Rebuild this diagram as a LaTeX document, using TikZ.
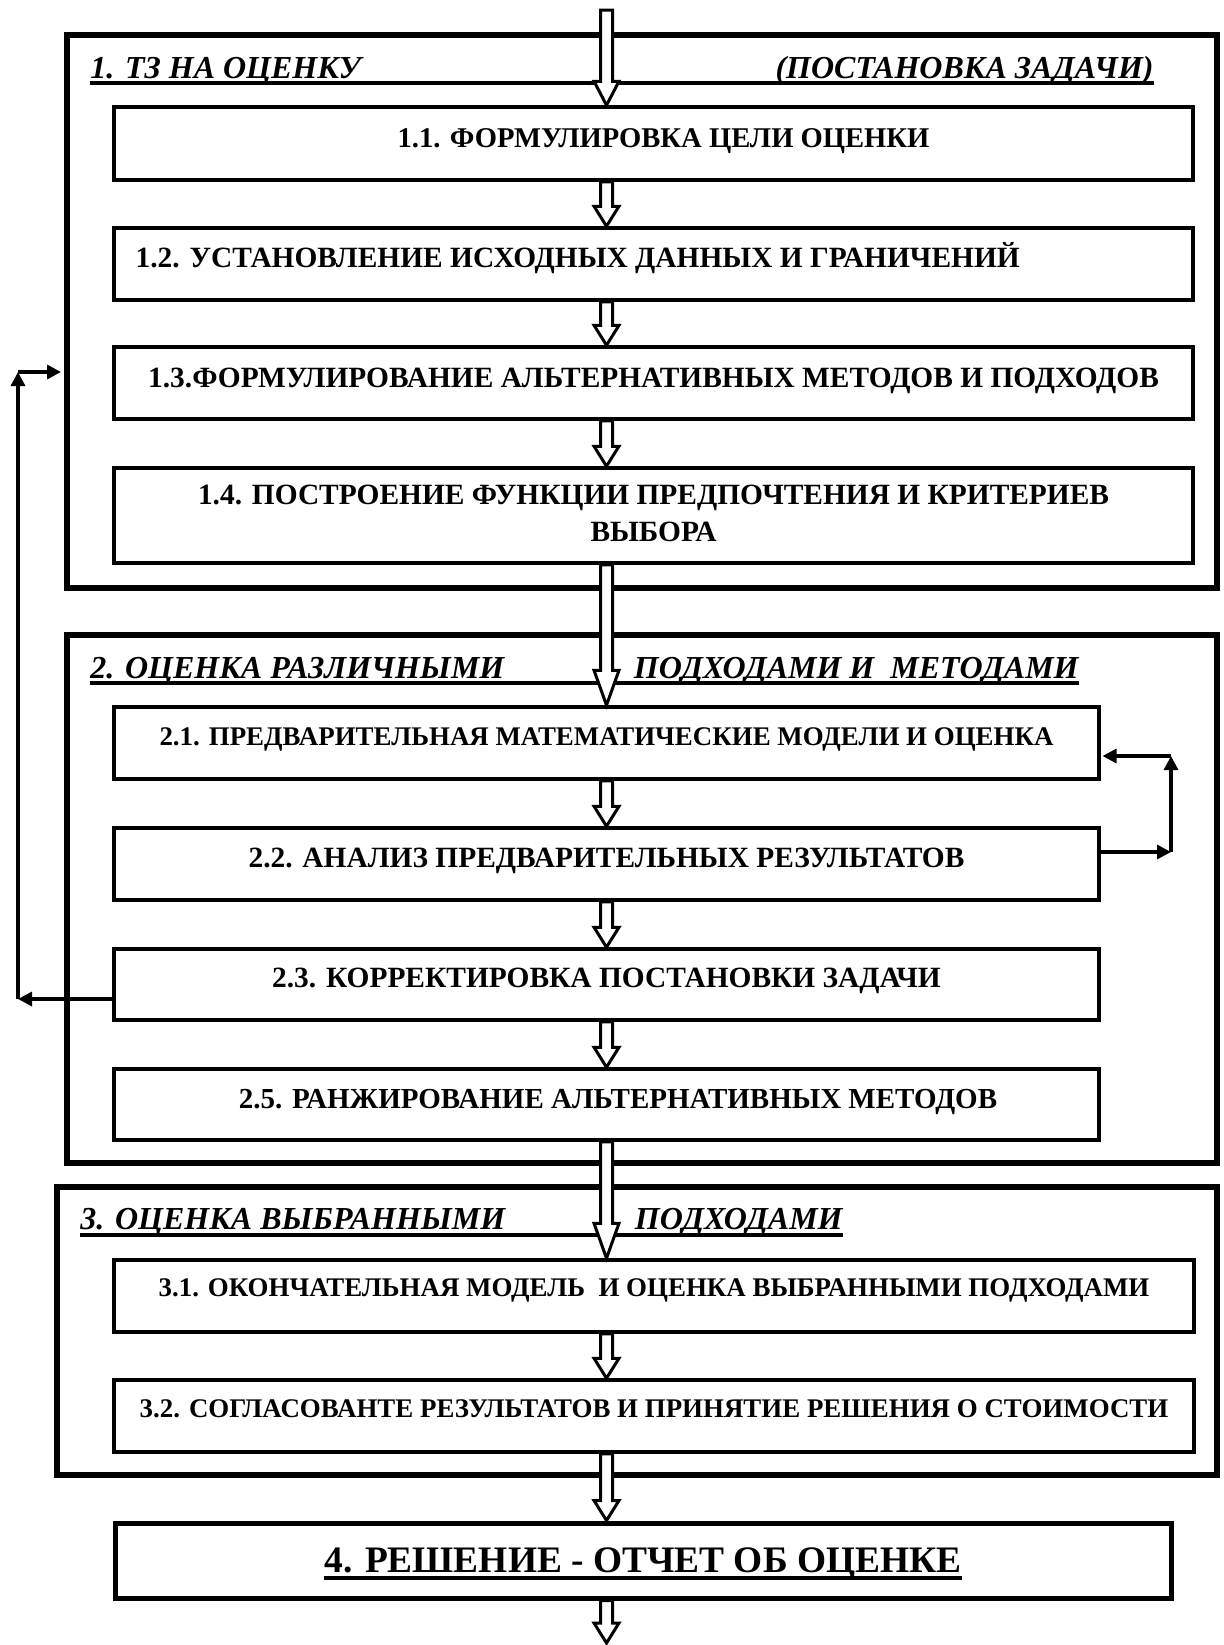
\documentclass[tikz,border=0pt]{standalone}
\usepackage{fontspec}
\setmainfont{Liberation Serif}
\usetikzlibrary{arrows.meta,calc}
\newcommand\hollowar[3]{%
  \draw[harrow] let \p1=(#1), \p2=(#2) in
    (\x1-3pt,\y1) -- (\x1-3pt,\y2+#3) -- (\x1-6.25pt,\y2+#3) -- (\x1,\y2)
    -- (\x1+6.25pt,\y2+#3) -- (\x1+3pt,\y2+#3) -- (\x1+3pt,\y1) -- cycle;}
\begin{document}
\begin{tikzpicture}[x=0.5pt,y=-0.5pt,
  outerbox/.style 2 args={draw,line width=3pt,inner sep=0pt,minimum width=#1,minimum height=#2},
  innerbox/.style 2 args={draw,line width=1.75pt,inner sep=0pt,minimum width=#1,minimum height=#2},
  resbox/.style 2 args={draw,line width=2.5pt,inner sep=0pt,minimum width=#1,minimum height=#2},
  hdr/.style={inner sep=0pt,font=\fontsize{16}{19}\selectfont\bfseries\itshape},
  btxt/.style={inner sep=0pt,anchor=base,font=\fontsize{14.7}{18}\selectfont\bfseries},
  btxts/.style={inner sep=0pt,anchor=base,font=\fontsize{13.45}{16}\selectfont\bfseries},
  restxt/.style={inner sep=0pt,anchor=base,font=\fontsize{18.7}{22}\selectfont\bfseries},
  ul/.style={line width=1.6pt},
  harrow/.style={draw,fill=white,line width=1.5pt,line join=miter},
  fb/.style={line width=1.6pt,-{Triangle[length=7pt,width=7pt]}}]
\useasboundingbox (0,0) rectangle (1224,1645);
\fill[white] (0,0) rectangle (1224,1645);
% outer frames
\node[outerbox={575pt}{276.5pt}] (B1) at (642,311.5) {};
\node[outerbox={575pt}{264pt}] (B2) at (642,899) {};
\node[outerbox={580pt}{144pt}] (B3) at (637,1331) {};
% inner boxes
\node[innerbox={539.5pt}{36.5pt}] (b11) at (653.5,143.5) {};
\node[innerbox={539.5pt}{36pt}] (b12) at (653.5,264) {};
\node[innerbox={539.5pt}{36pt}] (b13) at (653.5,383) {};
\node[innerbox={539.5pt}{47.5pt}] (b14) at (653.5,515.5) {};
\node[innerbox={492.5pt}{36pt}] (b21) at (606.5,743) {};
\node[innerbox={492.5pt}{36pt}] (b22) at (606.5,864) {};
\node[innerbox={492.5pt}{35.5pt}] (b23) at (606.5,984.5) {};
\node[innerbox={492.5pt}{35.5pt}] (b25) at (606.5,1104.5) {};
\node[innerbox={540pt}{36pt}] (b31) at (654,1296) {};
\node[innerbox={540pt}{36pt}] (b32) at (654,1416) {};
\node[resbox={528pt}{37.5pt}] (b4) at (643,1560.5) {};
% box texts
\node[btxt,font=\fontsize{14.3}{18}\selectfont\bfseries] (t11) at ([xshift=5pt,yshift=-21.25pt]b11.north) {1.1. ФОРМУЛИРОВКА ЦЕЛИ ОЦЕНКИ};
\node[btxt,anchor=base west] (t12) at ([xshift=11.5pt,yshift=-20.75pt]b12.north west) {1.2. УСТАНОВЛЕНИЕ ИСХОДНЫХ ДАННЫХ И ГРАНИЧЕНИЙ};
\node[btxt] (t13) at ([yshift=-21.25pt]b13.north) {1.3.ФОРМУЛИРОВАНИЕ АЛЬТЕРНАТИВНЫХ МЕТОДОВ И ПОДХОДОВ};
\node[btxt] (t14a) at ([yshift=-19.25pt]b14.north) {1.4. ПОСТРОЕНИЕ ФУНКЦИИ ПРЕДПОЧТЕНИЯ И КРИТЕРИЕВ};
\node[btxt] (t14b) at ([yshift=-37.75pt]b14.north) {ВЫБОРА};
\node[btxts] (t21) at ([yshift=-20.25pt]b21.north) {2.1. ПРЕДВАРИТЕЛЬНАЯ МАТЕМАТИЧЕСКИЕ МОДЕЛИ И ОЦЕНКА};
\node[btxt] (t22) at ([yshift=-20.75pt]b22.north) {2.2. АНАЛИЗ ПРЕДВАРИТЕЛЬНЫХ РЕЗУЛЬТАТОВ};
\node[btxt] (t23) at ([yshift=-20.25pt]b23.north) {2.3. КОРРЕКТИРОВКА ПОСТАНОВКИ ЗАДАЧИ};
\node[btxt,font=\fontsize{14.5}{18}\selectfont\bfseries] (t25) at ([xshift=5.75pt,yshift=-20.5pt]b25.north) {2.5. РАНЖИРОВАНИЕ АЛЬТЕРНАТИВНЫХ МЕТОДОВ};
\node[btxts] (t31) at ([yshift=-19.25pt]b31.north) {3.1. ОКОНЧАТЕЛЬНАЯ МОДЕЛЬ~ И ОЦЕНКА ВЫБРАННЫМИ ПОДХОДАМИ};
\node[btxts] (t32) at ([yshift=-19.75pt]b32.north) {3.2. СОГЛАСОВАНТЕ РЕЗУЛЬТАТОВ И ПРИНЯТИЕ РЕШЕНИЯ О СТОИМОСТИ};
\node[restxt] (t4) at ([yshift=-25.75pt]b4.north) {4. РЕШЕНИЕ - ОТЧЕТ ОБ ОЦЕНКЕ};
\draw[ul] ([yshift=-3pt]t4.base west) -- ([yshift=-3pt]t4.base east);
% headers
\node[hdr,anchor=base west] (h1a) at (90,78) {1. ТЗ НА ОЦЕНКУ};
\node[hdr,anchor=base east] (h1b) at (1154,78) {(ПОСТАНОВКА ЗАДАЧИ)};
\draw[ul] ([yshift=-2.5pt]h1a.base west) -- ([yshift=-2.5pt]h1b.base east);
\node[hdr,anchor=base west] (h2a) at (90,678) {2. ОЦЕНКА РАЗЛИЧНЫМИ};
\node[hdr,anchor=base east] (h2b) at (1079,678) {ПОДХОДАМИ И~ МЕТОДАМИ};
\draw[ul] ([yshift=-2.5pt]h2a.base west) -- ([yshift=-2.5pt]h2b.base east);
\node[hdr,anchor=base west] (h3a) at (80,1229) {3. ОЦЕНКА ВЫБРАННЫМИ};
\node[hdr,anchor=base east] (h3b) at (843,1229) {ПОДХОДАМИ};
\draw[ul] ([yshift=-3pt]h3a.base west) -- ([yshift=-3pt]h3b.base east);
% hollow flow arrows
\coordinate (spine) at (606.5,0);
\coordinate (top) at (606.5,10);
\coordinate (bot) at (606.5,1643);
\hollowar{top}{b11.north -| spine}{12pt}
\hollowar{b11.south -| spine}{b12.north -| spine}{10pt}
\hollowar{b12.south -| spine}{b13.north -| spine}{10pt}
\hollowar{b13.south -| spine}{b14.north -| spine}{10pt}
\hollowar{b14.south -| spine}{b21.north -| spine}{17.5pt}
\hollowar{b21.south -| spine}{b22.north -| spine}{10pt}
\hollowar{b22.south -| spine}{b23.north -| spine}{10pt}
\hollowar{b23.south -| spine}{b25.north -| spine}{10pt}
\hollowar{b25.south -| spine}{b31.north -| spine}{17.5pt}
\hollowar{b31.south -| spine}{b32.north -| spine}{10pt}
\hollowar{b32.south -| spine}{b4.north -| spine}{10pt}
\hollowar{b4.south -| spine}{bot}{10pt}
% feedback loops
\coordinate (c1) at (18,999);
\coordinate (c2) at (18,372);
\coordinate (c3) at (1171,852);
\coordinate (c4) at (1171,756);
\draw[fb] (c1 -| b23.west) -- (c1);
\draw[fb] (c1) -- (c2);
\draw[fb,shorten >=1.5pt] (c2) -- (c2 -| B1.west);
\draw[fb] (c3 -| b22.east) -- (c3);
\draw[fb] (c3) -- (c4);
\draw[fb,shorten >=0.9pt] (c4) -- (c4 -| b21.east);
\end{tikzpicture}
\end{document}
